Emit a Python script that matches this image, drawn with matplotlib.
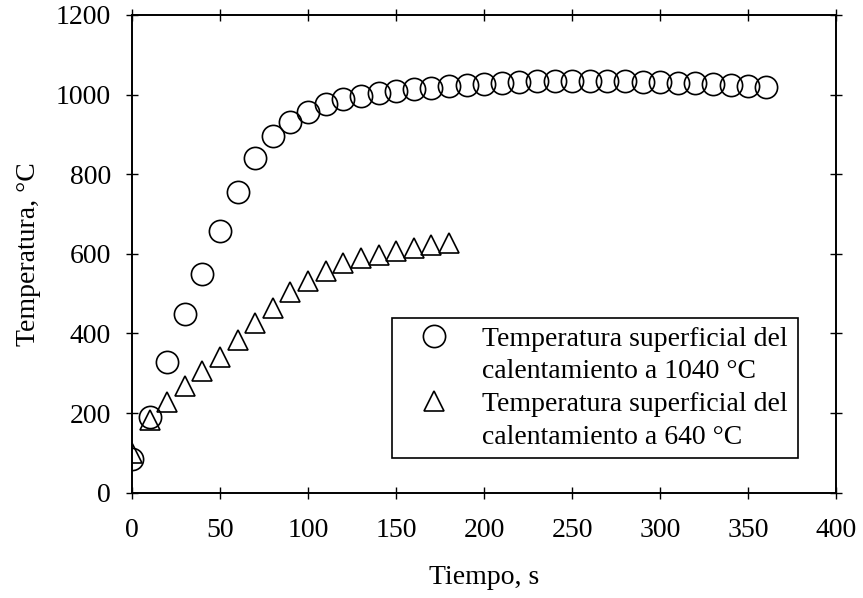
import matplotlib.pyplot as plt
from matplotlib.lines import Line2D

# tiempo (s) y temperatura superficial (°C)
t_1040 = [0, 10, 20, 30, 40, 50, 60, 70, 80, 90, 100, 110, 120, 130, 140, 150, 160, 170, 180,
          190, 200, 210, 220, 230, 240, 250, 260, 270, 280, 290, 300, 310, 320, 330, 340, 350, 360]
T_1040 = [85, 190, 328, 450, 550, 657, 755, 840, 895, 932, 957, 977, 988, 997, 1005, 1010, 1013, 1017, 1021,
          1024, 1027, 1029, 1031, 1033, 1034, 1035, 1035, 1034, 1033, 1032, 1031, 1029, 1028, 1026, 1024, 1022, 1020]

t_640 = [0, 10, 20, 30, 40, 50, 60, 70, 80, 90, 100, 110, 120, 130, 140, 150, 160, 170, 180]
T_640 = [100, 183, 229, 267, 305, 342, 384, 426, 463, 503, 533, 558, 578, 590, 598, 608, 614, 621, 626]

legend_lines = ["Temperatura superficial del", "calentamiento a 1040 °C",
                "Temperatura superficial del", "calentamiento a 640 °C"]

plt.rcParams['font.family'] = ['Liberation Serif', 'DejaVu Serif']

fig = plt.figure(figsize=(8.63, 5.98), dpi=100)
ax = fig.add_axes([0.153, 0.176, 0.816, 0.799])

mk = dict(linestyle='none', markerfacecolor='none', markeredgecolor='black', markeredgewidth=1.2)
ax.plot(t_1040, T_1040, marker='o', markersize=16, **mk)
ax.plot(t_640, T_640, marker='^', markersize=15, **mk)

ax.set_xlim(0, 400)
ax.set_ylim(0, 1200)
ax.set_xticks(range(0, 401, 50))
ax.set_yticks(range(0, 1201, 200))
ax.tick_params(direction='inout', length=8, width=1, labelsize=20,
               top=True, right=True, pad=11)
ax.tick_params(axis='x', pad=14)
for s in ax.spines.values():
    s.set_linewidth(1.4)

ax.set_xlabel("Tiempo, s", fontsize=20, labelpad=16)
ax.set_ylabel("Temperatura, °C", fontsize=20, labelpad=11)

# one legend row per text line so the markers sit on the first line of each entry
blank = Line2D([], [], linestyle='none')
handles = [Line2D([], [], marker='o', markersize=16, **mk), blank,
           Line2D([], [], marker='^', markersize=15, **mk), blank]
leg = ax.legend(handles, legend_lines, loc='lower left',
                bbox_to_anchor=(0.369, 0.073, 0.576, 0.299), mode='expand',
                borderaxespad=0, fontsize=20, frameon=True, fancybox=False, framealpha=1,
                edgecolor='black', handlelength=2.4, handletextpad=0.55, labelspacing=0.26,
                borderpad=0.3)
leg.get_frame().set_linewidth(1.2)

fig.savefig("out.png", dpi=100)
